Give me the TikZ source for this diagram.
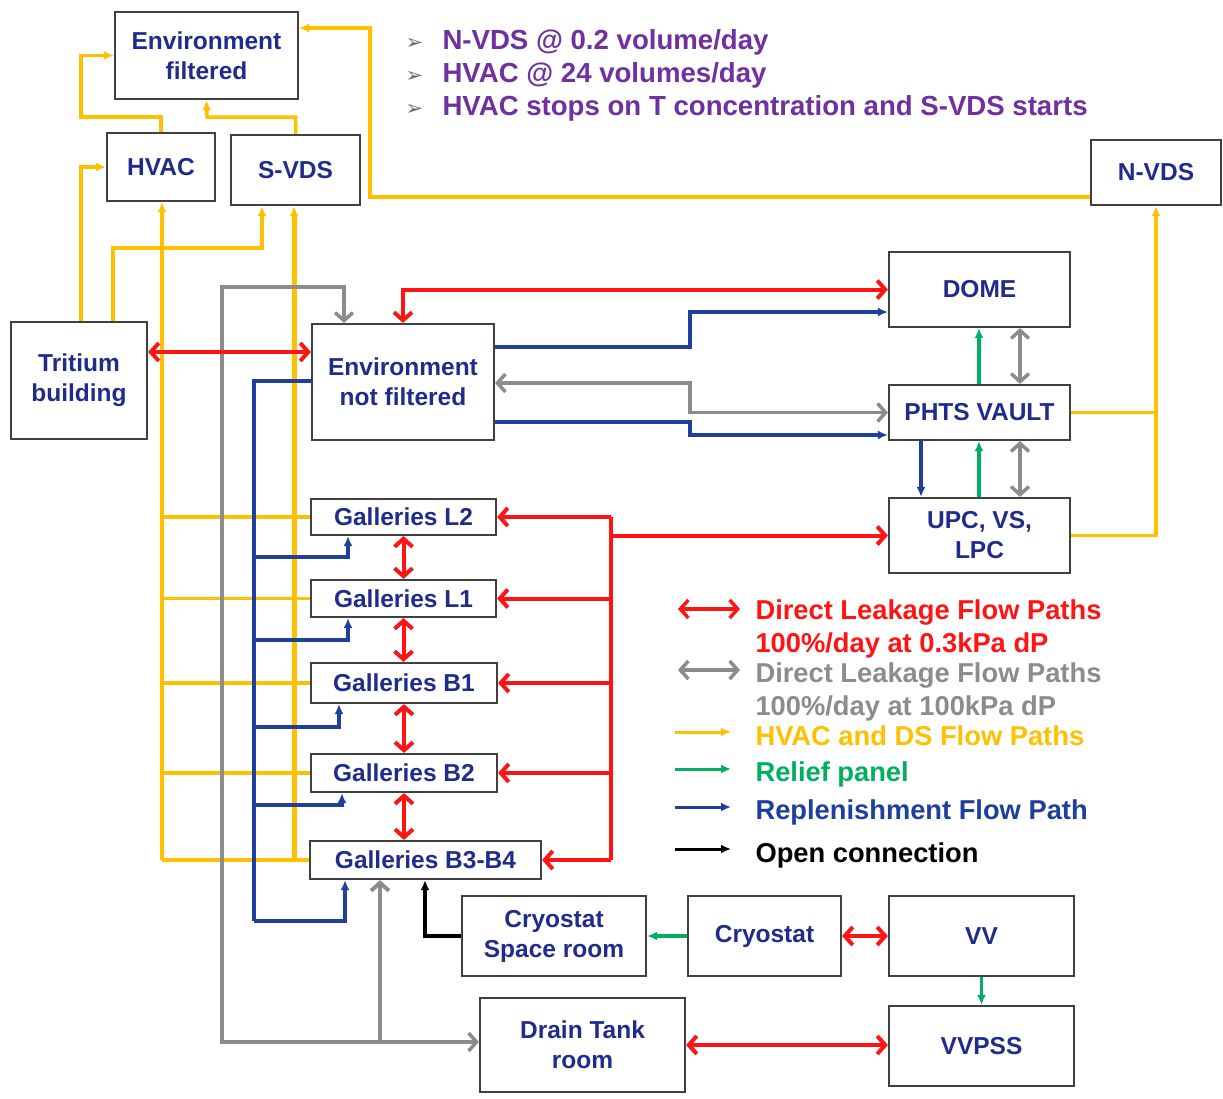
\documentclass[tikz,border=0pt]{standalone}
\usepackage{fontspec}
\setmainfont{Liberation Sans}
\newfontfamily\djv{DejaVu Sans}
\usetikzlibrary{arrows.meta}
\definecolor{nodeblue}{HTML}{1F2C8C}
\definecolor{cred}{HTML}{FF1414}
\definecolor{cgray}{HTML}{8C8C8C}
\definecolor{cyel}{HTML}{FFC000}
\definecolor{cgreen}{HTML}{00B060}
\definecolor{cblue}{HTML}{1F3F9F}
\definecolor{cpurple}{HTML}{7030A0}
\definecolor{cborder}{HTML}{404040}
\tikzset{
  rtip/.tip={Straight Barb[length=8pt,width=18pt]},
  stip/.tip={Latex[length=10pt,width=9pt]},
}
\begin{document}
\begin{tikzpicture}[x=1pt,y=-1pt,
  box/.style={draw=cborder, line width=2.2pt, fill=white, inner sep=0pt, align=center,
    text=nodeblue, font=\fontsize{24.5}{30}\selectfont\bfseries},
  yel/.style={draw=cyel, line width=3.5pt},
  rd/.style={draw=cred, line width=4pt},
  grl/.style={draw=cgray, line width=3.5pt},
  blu/.style={draw=cblue, line width=3.5pt},
  grn/.style={draw=cgreen, line width=3.5pt},
  blk/.style={draw=black, line width=3.5pt},
  toptext/.style={anchor=base west, text=cpurple, font=\fontsize{27.6}{30}\selectfont\bfseries},
  bul/.style={anchor=base west, text=cgray!80!black, font=\djv\fontsize{21}{24}\selectfont},
  legtext/.style={anchor=base west, font=\fontsize{27.3}{30}\selectfont\bfseries},
]
\fill[white] (0,0) rectangle (1223,1098);
\useasboundingbox (0,0) rectangle (1223,1098);

% nodes
\node[box, minimum width=183, minimum height=87] (envf) at (206.5,55.5) {Environment\\filtered};
\node[box, minimum width=108, minimum height=68] (hvac) at (161,167) {HVAC};
\node[box, minimum width=129, minimum height=70] (svds) at (295.5,170) {S-VDS};
\node[box, minimum width=130, minimum height=65] (nvds) at (1156,172.5) {N-VDS};
\node[box, minimum width=136, minimum height=117] (trit) at (79,380.5) {Tritium\\building};
\node[box, minimum width=182, minimum height=116] (envn) at (403,382) {Environment\\not filtered};
\node[box, minimum width=181, minimum height=75] (dome) at (979.5,289.5) {DOME};
\node[box, minimum width=181, minimum height=55] (phts) at (979.5,412.5) {PHTS VAULT};
\node[box, minimum width=181, minimum height=75] (upc) at (979.5,535.5) {UPC, VS,\\LPC};
\node[box, minimum width=185, minimum height=36] (gl2) at (403.5,517) {Galleries L2};
\node[box, minimum width=185, minimum height=37] (gl1) at (403.5,598.5) {Galleries L1};
\node[box, minimum width=186, minimum height=40] (gb1) at (404,683) {Galleries B1};
\node[box, minimum width=186, minimum height=38] (gb2) at (404,773) {Galleries B2};
\node[box, minimum width=231, minimum height=38] (gb34) at (425.5,860) {Galleries B3-B4};
\node[box, minimum width=184, minimum height=80] (csr) at (554,936) {Cryostat\\Space room};
\node[box, minimum width=153, minimum height=80] (cryo) at (764.5,936) {Cryostat};
\node[box, minimum width=185, minimum height=80] (vv) at (981.5,936) {VV};
\node[box, minimum width=205, minimum height=94] (drain) at (582.5,1045) {Drain Tank\\room};
\node[box, minimum width=185, minimum height=80] (vvpss) at (981.5,1046) {VVPSS};

% yellow
\draw[yel,-stip] (hvac.north) |- (81,117) |- (envf.west);
\draw[yel,-stip] (svds.north) |- (207,117) -- (envf.south);
\draw[yel,-stip] (nvds.west |- 0,197) -| (370,28) -- (envf.east |- 0,28);
\draw[yel,-stip] (trit.north -| 81,0) |- (hvac.west);
\draw[yel,-stip] (trit.north -| 113,0) |- (262,248) -- (svds.south -| 262,0);
\foreach \g in {gl2,gl1,gb1,gb2,gb34}{
  \draw[yel] (\g.west) -- (\g.west -| 162,0);
}
\draw[yel,-stip] (gb34.west -| 162,0) -- (hvac.south -| 162,0);
\draw[yel,line width=5pt,-stip] (gb34.west -| 294,0) -- (svds.south -| 294,0);
\draw[yel,-stip] (phts.east) -| (nvds.south);
\draw[yel] (upc.east) -| (phts.east -| nvds.south);

% gray
\draw[grl,rtip-rtip] (envn.north -| 344,0) |- (222,287) |- (drain.west |- 0,1042);
\draw[grl,line width=4pt,-rtip] (380,1042) -- (gb34.south -| 380,0);
\draw[grl,rtip-rtip] (envn.east |- 0,383) -| (phts.west -| 690,0) -- (phts.west);
\draw[grl,rtip-rtip] (dome.south -| 1020,0) -- (phts.north -| 1020,0);
\draw[grl,rtip-rtip] (phts.south -| 1020,0) -- (upc.north -| 1020,0);

% blue
\draw[blu,-stip] (envn.east |- 0,347) -| (690,312) -- (dome.west |- 0,312);
\draw[blu,-stip] (envn.east |- 0,422) -| (690,435) -- (phts.west |- 0,435);
\draw[blu,-stip] (phts.south -| 921,0) -- (upc.north -| 921,0);
\draw[blu] (envn.west |- 0,381) -| (254,921);
\draw[blu,-stip] (254,557) -| (gl2.south -| 348,0);
\draw[blu,-stip] (254,640) -| (gl1.south -| 348,0);
\draw[blu,-stip] (254,727) -| (gb1.south -| 339,0);
\draw[blu,-stip] (254,805) -| (gb2.south -| 342,0);
\draw[blu,-stip] (254,921) -| (gb34.south -| 345,0);

% green
\draw[grn,-stip] (phts.north -| 979,0) -- (dome.south -| 979,0);
\draw[grn,-stip] (upc.north -| 979,0) -- (phts.south -| 979,0);
\draw[grn,-stip] (cryo.west) -- (csr.east);
\draw[grn,-stip] (vv.south) -- (vvpss.north);

% black
\draw[blk,-stip] (csr.west) -| (gb34.south -| 425,0);

% red
\draw[rd,rtip-rtip] (trit.east |- 0,352) -- (envn.west |- 0,352);
\draw[rd,rtip-rtip] (envn.north) |- (dome.west);
\draw[rd] (gl2.east -| 611,0) -- (gb34.east -| 611,0);
\foreach \g in {gl2,gl1,gb1,gb2,gb34}{
  \draw[rd,-rtip] (\g.east -| 611,0) -- (\g.east);
}
\draw[rd,-rtip] (upc.west -| 611,0) -- (upc.west);
\draw[rd,rtip-rtip] (gl2.south) -- (gl1.north);
\draw[rd,rtip-rtip] (gl1.south) -- (gb1.north -| gl1.south);
\draw[rd,rtip-rtip] (gb1.south) -- (gb2.north);
\draw[rd,rtip-rtip] (gb2.south) -- (gb34.north -| gb2.south);
\draw[rd,rtip-rtip] (cryo.east) -- (vv.west);
\draw[rd,rtip-rtip] (drain.east) -- (vvpss.west |- drain.east);

% top text
\node[bul] (b1) at (402,49) {➢};
\node[bul] (b2) at (402,82) {➢};
\node[bul] (b3) at (402,115) {➢};
\node[toptext] (t1) at (439,49) {N-VDS @ 0.2 volume/day};
\node[toptext] (t2) at (439,82) {HVAC @ 24 volumes/day};
\node[toptext] (t3) at (439,115) {HVAC stops on T concentration and S-VDS starts};

% legend
\node[legtext, text=cred] (l1) at (752,619) {Direct Leakage Flow Paths};
\node[legtext, text=cred] (l2) at (752,652) {100\%/day at 0.3kPa dP};
\node[legtext, text=cgray] (l3) at (752,682) {Direct Leakage Flow Paths};
\node[legtext, text=cgray] (l4) at (752,715) {100\%/day at 100kPa dP};
\node[legtext, text=cyel] (l5) at (752,745) {HVAC and DS Flow Paths};
\node[legtext, text=cgreen] (l6) at (752,781) {Relief panel};
\node[legtext, text=cblue] (l7) at (752,819) {Replenishment Flow Path};
\node[legtext, text=black] (l8) at (752,862) {Open connection};
\coordinate (a1s) at (678,609); \coordinate (a1e) at (740,609);
\coordinate (a3s) at (678,670); \coordinate (a3e) at (740,670);
\coordinate (a5s) at (675,732); \coordinate (a5e) at (731,732);
\coordinate (a6s) at (675,769); \coordinate (a6e) at (731,769);
\coordinate (a7s) at (675,807); \coordinate (a7e) at (731,807);
\coordinate (a8s) at (675,849); \coordinate (a8e) at (731,849);
\draw[rd,line width=3.5pt,rtip-rtip] (a1s) -- (a1e);
\draw[grl,rtip-rtip] (a3s) -- (a3e);
\draw[yel,line width=3pt,-stip] (a5s) -- (a5e);
\draw[grn,line width=3pt,-stip] (a6s) -- (a6e);
\draw[blu,line width=3pt,-stip] (a7s) -- (a7e);
\draw[blk,line width=3pt,-stip] (a8s) -- (a8e);
\end{tikzpicture}
\end{document}
